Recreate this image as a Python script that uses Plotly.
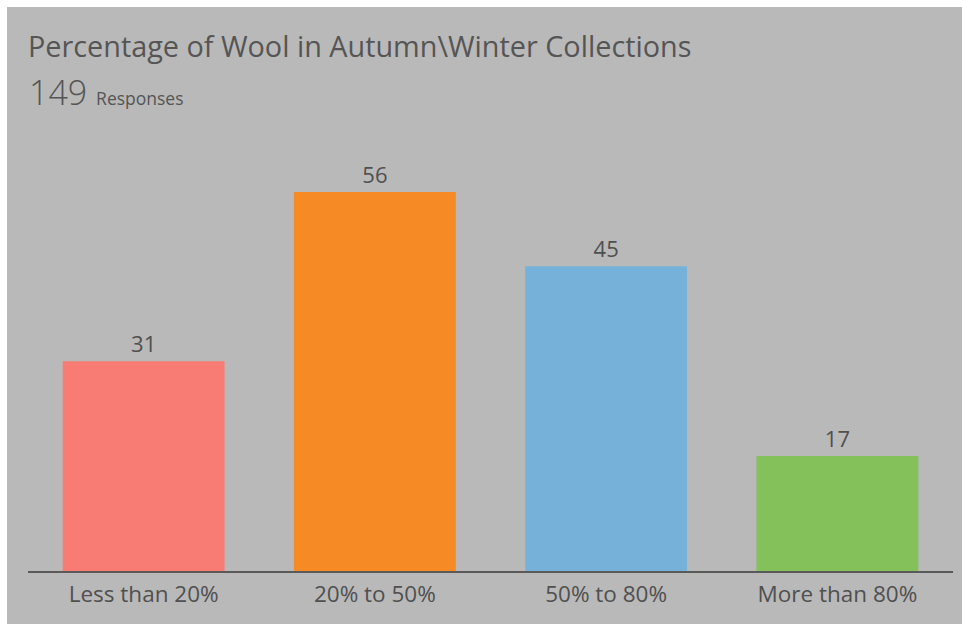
import plotly.graph_objects as go

categories = ["Less than 20%", "20% to 50%", "50% to 80%", "More than 80%"]
values = [31, 56, 45, 17]
colors = ["#F87C74", "#F68B26", "#76B1DA", "#84C15A"]
title_text = "Percentage of Wool in Autumn\\Winter Collections"
total_responses = "149"

W, H = 962, 624
ml, mr, mt, mb = 28, 9, 150, 53
pw, ph = W - ml - mr, H - mt - mb

fig = go.Figure(go.Bar(
    x=categories, y=values,
    marker=dict(color=colors, line=dict(width=0)),
    text=values, textposition="outside", cliponaxis=False,
    textfont=dict(size=22, color="#505050", family="Open Sans"),
    hoverinfo="skip",
))

def px_x(x):
    return (x - ml) / pw

def px_y(y):
    return (H - mb - y) / ph

fig.add_shape(type="rect", xref="paper", yref="paper",
              x0=px_x(7), x1=px_x(W + 5), y0=px_y(H + 5), y1=px_y(7),
              fillcolor="#B9B9B9", line=dict(width=0), layer="below")

fig.add_annotation(text=title_text, xref="paper", yref="paper",
                   x=px_x(26), y=px_y(24), xanchor="left", yanchor="top",
                   showarrow=False,
                   font=dict(size=28.8, color="#555555", family="Open Sans"))
fig.add_annotation(text=f"<span style='font-weight:300'>{total_responses}</span> <span style='font-size:17.5px'>Responses</span>",
                   xref="paper", yref="paper",
                   x=px_x(27), y=px_y(67), xanchor="left", yanchor="top",
                   showarrow=False,
                   font=dict(size=34, color="#555555", family="Open Sans"))

fig.update_layout(
    width=W, height=H,
    margin=dict(l=ml, r=mr, t=mt, b=mb, pad=0),
    paper_bgcolor="white", plot_bgcolor="#B9B9B9",
    bargap=0.30, showlegend=False,
    font=dict(family="Open Sans", color="#505050"),
    xaxis=dict(showline=True, linecolor="#5a5a5a", linewidth=1.5,
               ticks="", showgrid=False, zeroline=False,
               ticklabelstandoff=2,
               tickfont=dict(size=22.5, color="#505050")),
    yaxis=dict(range=[0, (H - mb - mt) / 6.77], visible=False,
               showgrid=False, zeroline=False),
)

fig.write_html("out.html")
